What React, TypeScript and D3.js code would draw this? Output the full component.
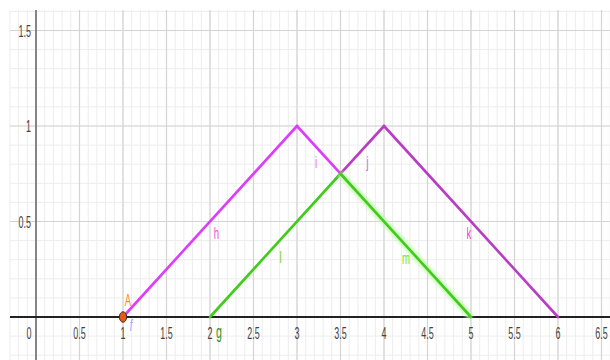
import React from "react";
import * as d3 from "d3";

const W = 610;
const H = 360;

// x tick labels and y tick labels
const xTicks = [0.5, 1, 1.5, 2, 2.5, 3, 3.5, 4, 4.5, 5, 5.5, 6, 6.5];
const yTicks = [0.5, 1, 1.5];

// segments: [x1, y1, x2, y2]
const segH = [1, 0, 3, 1];
const segI = [3, 1, 3.56, 0.72];
const segJ = [3.44, 0.72, 4, 1];
const segK = [4, 1, 6, 0];
const segL = [2, 0, 3.5, 0.75];
const segM = [3.5, 0.75, 5, 0];

const pointA = [1, 0];

const x = d3.scaleLinear().domain([0, 6.5]).range([36, 601.5]);
const y = d3.scaleLinear().domain([0, 1.5]).range([317, 30.5]);

const left = 10;
const top = 10;

const minorX = d3.range(-3, 67).map((v) => v / 10);
const minorY = d3.range(-2, 17).map((v) => v / 10);
const majorX = d3.range(0, 14).map((v) => v / 2);
const majorY = d3.range(0, 4).map((v) => v / 2);

const FONT = "'Liberation Sans', Arial, sans-serif";

function Label({ tx, ty, text, size, color, anchor = "middle", italic = false, weight = "normal" }: any) {
  return (
    <text
      transform={`translate(${tx},${ty}) scale(0.56,1)`}
      textAnchor={anchor}
      fontFamily={FONT}
      fontSize={size}
      fill={color}
      fontStyle={italic ? "italic" : "normal"}
      fontWeight={weight}
    >
      {text}
    </text>
  );
}

function Seg({ s, color, width = 2.6 }: any) {
  return (
    <line
      x1={x(s[0])}
      y1={y(s[1])}
      x2={x(s[2])}
      y2={y(s[3])}
      stroke={color}
      strokeWidth={width}
      strokeLinecap="round"
    />
  );
}

export default function App() {
  const fmt = (v: number) => String(v);
  return (
    <svg
      width={W}
      height={H}
      style={{ position: "absolute", left: 0, top: 0, background: "#fff" }}
    >
      <defs>
        <filter id="glow" x="-20%" y="-20%" width="140%" height="140%">
          <feGaussianBlur stdDeviation="1.5" />
        </filter>
      </defs>
      {/* minor grid */}
      {minorX.map((v) => (
        <line key={"mx" + v} x1={x(v)} x2={x(v)} y1={top} y2={H} stroke="#ededed" strokeWidth={1} />
      ))}
      {minorY.map((v) => (
        <line key={"my" + v} x1={left} x2={W} y1={y(v)} y2={y(v)} stroke="#ededed" strokeWidth={1} />
      ))}
      {/* major grid */}
      {majorX.map((v) => (
        <line key={"Mx" + v} x1={x(v)} x2={x(v)} y1={top} y2={H} stroke="#d4d4d4" strokeWidth={1.2} />
      ))}
      {majorY.map((v) => (
        <line key={"My" + v} x1={left} x2={W} y1={y(v)} y2={y(v)} stroke="#d4d4d4" strokeWidth={1.2} />
      ))}
      {/* axes */}
      <line x1={x(0)} x2={x(0)} y1={top} y2={H} stroke="#666" strokeWidth={1.5} />
      <line x1={left} x2={W} y1={y(0)} y2={y(0)} stroke="#222" strokeWidth={2} />

      {/* tick labels */}
      {xTicks.map((v) => (
        <Label key={"xl" + v} tx={x(v)} ty={339} text={fmt(v)} size={16} color="#444" />
      ))}
      <Label tx={29} ty={339} text="0" size={16} color="#444" />
      {yTicks.map((v) => (
        <Label key={"yl" + v} tx={31} ty={y(v) + 6} text={fmt(v)} size={16} color="#444" anchor="end" />
      ))}

      {/* segments */}
      <Seg s={segH} color="#dd3dfa" />
      <Seg s={segI} color="#dd3dfa" />
      <Seg s={segJ} color="#b83cc4" />
      <Seg s={segK} color="#b83cc4" />
      <Seg s={segL} color="#3fcc1a" />
      <line
        x1={x(segM[0])}
        y1={y(segM[1])}
        x2={x(segM[2])}
        y2={y(segM[3])}
        stroke="#c6f7b4"
        strokeWidth={7}
        opacity={0.9}
        filter="url(#glow)"
      />
      <Seg s={segM} color="#3fcc1a" />

      {/* point A */}
      <ellipse cx={x(pointA[0])} cy={y(pointA[1])} rx={3.6} ry={5.2} fill="#e85a0c" stroke="#333" strokeWidth={1} />

      {/* object labels */}
      <Label tx={216.5} ty={239} text="h" size={17} color="#f34cdc" />
      <Label tx={316} ty={168} text="i" size={17} color="#e860e6" />
      <Label tx={367.5} ty={168} text="j" size={17} color="#e455ee" />
      <Label tx={469} ty={239} text="k" size={17} color="#f53fd6" />
      <Label tx={280.5} ty={263} text="l" size={17} color="#5ad11e" />
      <Label tx={406} ty={264} text="m" size={17} color="#6ee82c" />
      <Label tx={128} ty={306} text="A" size={17} color="#ff8a26" />
      <Label tx={131} ty={331} text="f" size={16} color="#9a9cff" italic />
      <Label tx={219} ty={338} text="g" size={19} color="#2f8f2a" />
    </svg>
  );
}
